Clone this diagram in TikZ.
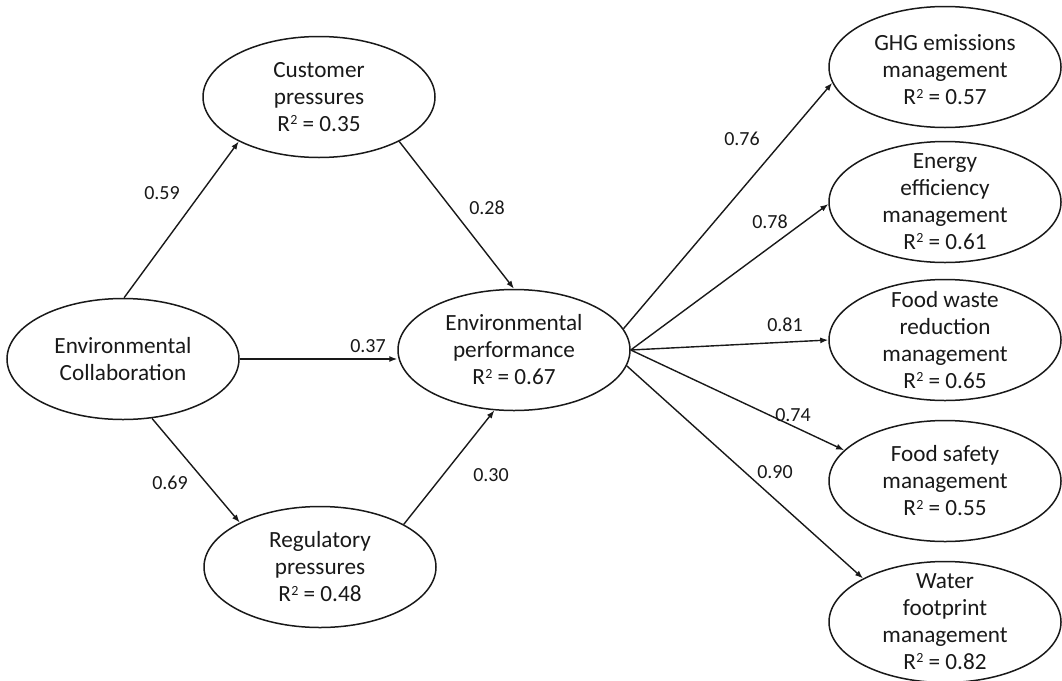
\documentclass[tikz,border=0pt]{standalone}
\usepackage{fontspec}
\setmainfont{Carlito}
\usetikzlibrary{arrows.meta,shapes.geometric}
\newcommand{\rsq}{R\kern0.3pt\raisebox{0.62ex}{\fontsize{14}{14}\selectfont 2}}
\begin{document}
\begin{tikzpicture}[x=1pt,y=-1pt,
  ell/.style={draw=black!90, line width=1.5pt, ellipse, minimum width=232pt, minimum height=121pt, inner sep=0pt},
  etext/.style={align=center, inner sep=0pt, font=\fontsize{23.2}{27}\selectfont, text=black!90},
  coef/.style={inner sep=0pt, font=\fontsize{20}{24}\selectfont, text=black!90},
  arr/.style={draw=black!90, line width=1.4pt, -{Latex[length=8pt,width=6pt]}}
]
\useasboundingbox (0,0) rectangle (1062,680);
\fill[white] (0,0) rectangle (1062,680);

% ellipses
\node[ell] (cp) at (319,97) {};
\node[ell] (ec) at (123,359) {};
\node[ell] (rp) at (320,567) {};
\node[ell] (ep) at (514,350) {};
\node[ell] (ghg) at (945,67) {};
\node[ell] (en) at (945,202) {};
\node[ell] (fw) at (945,340) {};
\node[ell] (fs) at (945,481) {};
\node[ell] (wa) at (945,622) {};

% texts
\node[etext] (cpt) at (cp) {Customer\\pressures\\\rsq{} = 0.35};
\node[etext] (ect) at (ec) {Environmental\\Collaboration};
\node[etext] (rpt) at (rp) {Regulatory\\pressures\\\rsq{} = 0.48};
\node[etext] (ept) at (ep) {Environmental\\performance\\\rsq{} = 0.67};
\node[etext] (ghgt) at ([yshift=-3pt]ghg.center) {GHG emissions\\management\\\rsq{} = 0.57};
\node[etext] (ent) at (en) {Energy\\efficiency\\management\\\rsq{} = 0.61};
\node[etext] (fwt) at (fw) {Food waste\\reduction\\management\\\rsq{} = 0.65};
\node[etext] (fst) at (fs) {Food safety\\management\\\rsq{} = 0.55};
\node[etext] (wat) at (wa) {Water\\footprint\\management\\\rsq{} = 0.82};

% connectors
\draw[arr] (ec.89) -- (cp.209);
\draw[arr] (cp.331) -- (ep.north);
\draw[arr] (ec.east) -- (ec.east -| ep.west);
\draw[arr] (ec.296) -- (rp.151.5);
\draw[arr] (rp.27) -- (ep.252);
\draw[arr] (ep.11.3) -- (ghg.188.7);
\draw[arr] (ep.east) -- (en.181.5);
\draw[arr] (ep.east) -- (fw.west);
\draw[arr] (ep.east) -- (fs.163.5);
\draw[arr] (ep.352.6) -- (wa.152.3);

% coefficients
\node[coef] (l59) at (162,193) {0.59};
\node[coef] (l28) at (487,208) {0.28};
\node[coef] (l37) at (368,346) {0.37};
\node[coef] (l69) at (170,483) {0.69};
\node[coef] (l30) at (491,475) {0.30};
\node[coef] (l76) at (742,139) {0.76};
\node[coef] (l78) at (770,222) {0.78};
\node[coef] (l81) at (785,325) {0.81};
\node[coef] (l74) at (793,415) {0.74};
\node[coef] (l90) at (775,472) {0.90};
\end{tikzpicture}
\end{document}
